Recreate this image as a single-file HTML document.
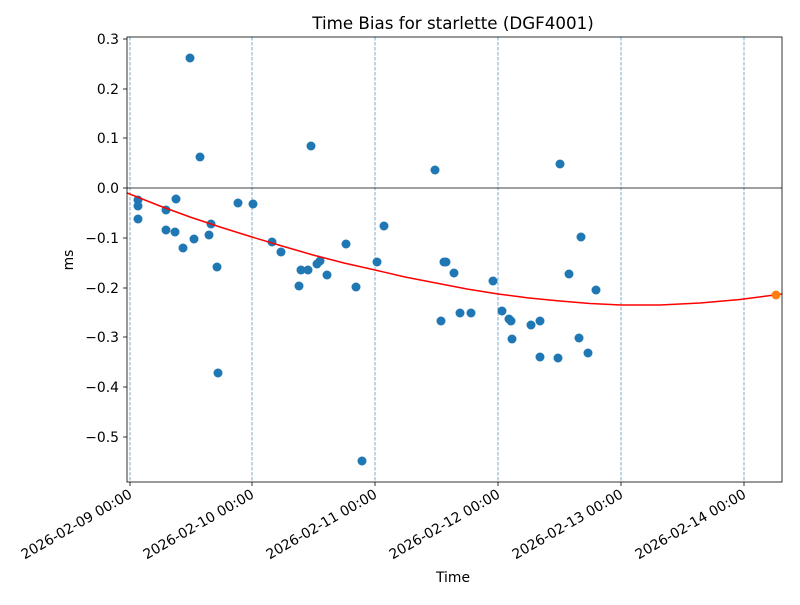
<!DOCTYPE html>
<html><head><meta charset="utf-8"><style>
body{margin:0;background:#fff}
svg text{font-family:"DejaVu Sans","Liberation Sans",sans-serif;fill:#000}
</style></head><body>
<svg width="800" height="600" viewBox="0 0 800 600" xmlns="http://www.w3.org/2000/svg">
<rect width="800" height="600" fill="#fff"/>
<g stroke="#1f77b4" stroke-width="0.6" stroke-dasharray="3.5,1.5">
<line x1="130" y1="37" x2="130" y2="482"/><line x1="252" y1="37" x2="252" y2="482"/>
<line x1="375" y1="37" x2="375" y2="482"/><line x1="498" y1="37" x2="498" y2="482"/>
<line x1="621" y1="37" x2="621" y2="482"/><line x1="744" y1="37" x2="744" y2="482"/>
</g>
<line x1="127" y1="188" x2="782" y2="188" stroke="#000" stroke-width="0.8"/>
<g fill="#1f77b4">
<circle cx="138" cy="200" r="4.5"/><circle cx="138" cy="206" r="4.5"/><circle cx="138" cy="219" r="4.5"/>
<circle cx="166" cy="210" r="4.5"/><circle cx="166" cy="230" r="4.5"/><circle cx="176" cy="199" r="4.5"/>
<circle cx="175" cy="232" r="4.5"/><circle cx="183" cy="248" r="4.5"/><circle cx="190" cy="58" r="4.5"/>
<circle cx="194" cy="239" r="4.5"/><circle cx="200" cy="157" r="4.5"/><circle cx="209" cy="235" r="4.5"/>
<circle cx="211" cy="224" r="4.5"/><circle cx="217" cy="267" r="4.5"/><circle cx="218" cy="373" r="4.5"/>
<circle cx="238" cy="203" r="4.5"/><circle cx="253" cy="204" r="4.5"/><circle cx="272" cy="242" r="4.5"/>
<circle cx="281" cy="252" r="4.5"/><circle cx="299" cy="286" r="4.5"/><circle cx="301" cy="270" r="4.5"/>
<circle cx="308" cy="270" r="4.5"/><circle cx="311" cy="146" r="4.5"/><circle cx="317" cy="264" r="4.5"/>
<circle cx="320" cy="261" r="4.5"/><circle cx="327" cy="275" r="4.5"/><circle cx="346" cy="244" r="4.5"/>
<circle cx="356" cy="287" r="4.5"/><circle cx="362" cy="461" r="4.5"/><circle cx="377" cy="262" r="4.5"/>
<circle cx="384" cy="226" r="4.5"/><circle cx="435" cy="170" r="4.5"/><circle cx="441" cy="321" r="4.5"/>
<circle cx="444" cy="262" r="4.5"/><circle cx="446" cy="262" r="4.5"/><circle cx="454" cy="273" r="4.5"/>
<circle cx="460" cy="313" r="4.5"/><circle cx="471" cy="313" r="4.5"/><circle cx="493" cy="281" r="4.5"/>
<circle cx="502" cy="311" r="4.5"/><circle cx="509" cy="319" r="4.5"/><circle cx="511" cy="321" r="4.5"/>
<circle cx="512" cy="339" r="4.5"/><circle cx="531" cy="325" r="4.5"/><circle cx="540" cy="357" r="4.5"/>
<circle cx="540" cy="321" r="4.5"/><circle cx="558" cy="358" r="4.5"/><circle cx="560" cy="164" r="4.5"/>
<circle cx="569" cy="274" r="4.5"/><circle cx="579" cy="338" r="4.5"/><circle cx="581" cy="237" r="4.5"/>
<circle cx="588" cy="353" r="4.5"/><circle cx="596" cy="290" r="4.5"/>
</g>
<polyline points="127,193 160,206 190,217 220,227 252,237 282,246 313,255 344,263 375,270 405,277 436,283 467,289 498,294 529,298 560,301 590,303.5 621,305 660,305 700,303 740,299.5 782,294" fill="none" stroke="red" stroke-width="1.5"/>
<circle cx="776" cy="295" r="4.5" fill="#ff7f0e"/>
<rect x="127" y="37" width="655" height="445" fill="none" stroke="#000" stroke-width="0.8"/>
<g stroke="#000" stroke-width="0.8">
<line x1="123" y1="39" x2="127" y2="39"/><line x1="123" y1="89" x2="127" y2="89"/><line x1="123" y1="138" x2="127" y2="138"/>
<line x1="123" y1="188" x2="127" y2="188"/><line x1="123" y1="238" x2="127" y2="238"/><line x1="123" y1="288" x2="127" y2="288"/>
<line x1="123" y1="337" x2="127" y2="337"/><line x1="123" y1="387" x2="127" y2="387"/><line x1="123" y1="437" x2="127" y2="437"/>
<line x1="130" y1="482" x2="130" y2="486"/><line x1="252" y1="482" x2="252" y2="486"/><line x1="375" y1="482" x2="375" y2="486"/>
<line x1="498" y1="482" x2="498" y2="486"/><line x1="621" y1="482" x2="621" y2="486"/><line x1="744" y1="482" x2="744" y2="486"/>
</g>
<g font-size="13.9" text-anchor="end">
<text x="119" y="44">0.3</text><text x="119" y="94">0.2</text><text x="119" y="143">0.1</text>
<text x="119" y="193">0.0</text><text x="119" y="243">−0.1</text><text x="119" y="293">−0.2</text>
<text x="119" y="342">−0.3</text><text x="119" y="392">−0.4</text><text x="119" y="442">−0.5</text>
<text transform="translate(133,497) rotate(-30)">2026-02-09 00:00</text>
<text transform="translate(255,497) rotate(-30)">2026-02-10 00:00</text>
<text transform="translate(378,497) rotate(-30)">2026-02-11 00:00</text>
<text transform="translate(501,497) rotate(-30)">2026-02-12 00:00</text>
<text transform="translate(624,497) rotate(-30)">2026-02-13 00:00</text>
<text transform="translate(747,497) rotate(-30)">2026-02-14 00:00</text>
</g>
<text x="453" y="582" font-size="13.9" text-anchor="middle">Time</text>
<text transform="translate(73,260) rotate(-90)" font-size="13.9" text-anchor="middle">ms</text>
<text x="453" y="29" font-size="16.7" text-anchor="middle">Time Bias for starlette (DGF4001)</text>
</svg>
</body></html>
